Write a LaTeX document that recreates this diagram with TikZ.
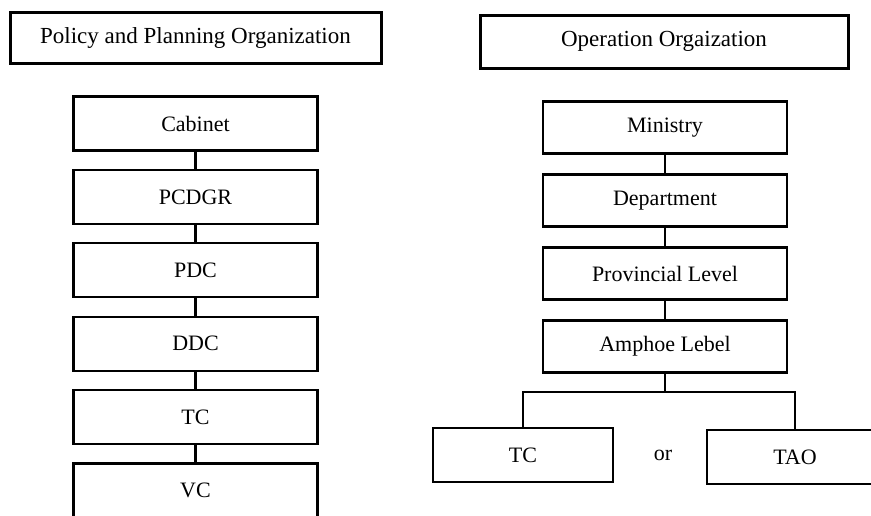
\documentclass[tikz,border=0pt]{standalone}
\usepackage{fontspec}
\setmainfont{Liberation Serif}
\usetikzlibrary{positioning}

\begin{document}
\begin{tikzpicture}[x=0.5pt, y=-0.5pt,
    title/.style={draw, line width=1.5pt, minimum height=25.5pt, font=\fontsize{11.5}{13}\selectfont},
    unit/.style={draw, line width=1.1pt, minimum width=122pt, minimum height=27pt, font=\fontsize{11}{13}\selectfont},
    link/.style={line width=1.1pt}]

  \useasboundingbox (0, 0) rectangle (871, 515);
  \clip (0, 0) rectangle (871, 515);

  \coordinate (L) at (195.5, 37.5);
  \coordinate (R) at (664, 41.5);

  \node [title, minimum width=185.5pt] (plan) at (L) {Policy and Planning Organization};
  \node [title, minimum width=184pt, minimum height=26.5pt] (oper) at (R) {Operation Orgaization};

  \node [unit] (cab) at (195.5, 123.5) {Cabinet};
  \node [unit, below=8.6pt of cab] (pcdgr) {PCDGR};
  \node [unit, below=8.6pt of pcdgr] (pdc) {PDC};
  \node [unit, below=8.6pt of pdc] (ddc) {DDC};
  \node [unit, below=8.6pt of ddc] (tc) {TC};
  \node [unit, below=8.6pt of tc] (vc) {VC};

  \draw [link]
  (cab.south) -- (pcdgr.north)
  (pcdgr.south) -- (pdc.north)
  (pdc.south) -- (ddc.north)
  (ddc.south) -- (tc.north)
  (tc.south) -- (vc.north);

  \node [unit, minimum height=26pt] (min) at (665, 127.5) {Ministry};
  \node [unit, minimum height=26pt, below=9.4pt of min] (dep) {Department};
  \node [unit, minimum height=26pt, below=9.4pt of dep] (prov) {Provincial Level};
  \node [unit, minimum height=26pt, below=9.4pt of prov] (amp) {Amphoe Lebel};

  \node [unit, minimum width=90pt] (tcb) at (523, 455) {TC};
  \node [unit, minimum width=88pt] (tao) at (795, 457) {TAO};
  \node [font=\fontsize{11}{13}\selectfont] (or) at (663, 455) {or};

  \draw [link]
  (min.south) -- (dep.north)
  (dep.south) -- (prov.north)
  (prov.south) -- (amp.north);

  \draw [link] (amp.south) -- ++(0, 18) coordinate (fork);
  \draw [link] (tcb.north) |- (fork) -| (tao.north);

\end{tikzpicture}
\end{document}
